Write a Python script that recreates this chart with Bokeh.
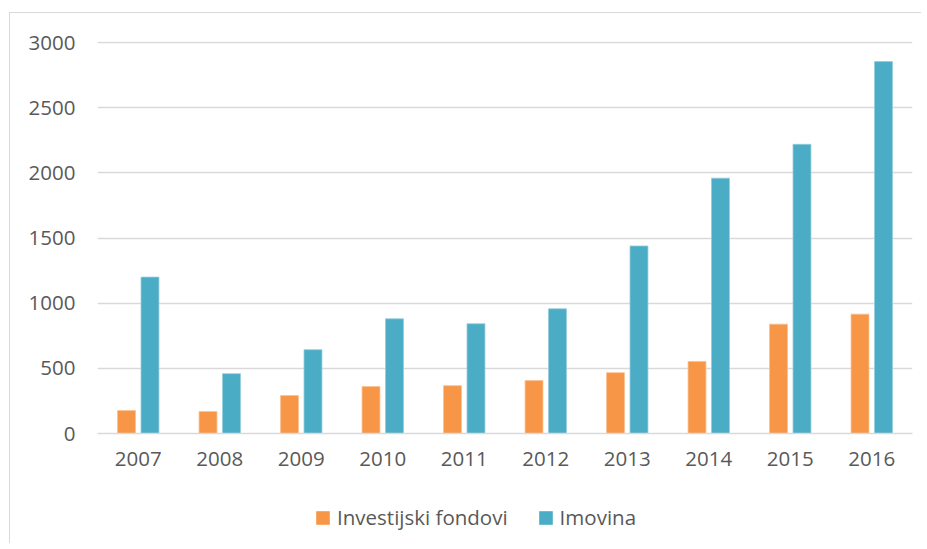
from bokeh.plotting import figure
from bokeh.models import ColumnDataSource, Legend, LegendItem, FactorRange, SingleIntervalTicker
from bokeh.layouts import column
from bokeh.transform import dodge
from bokeh.embed import file_html
from bokeh.resources import INLINE

years = ["2007", "2008", "2009", "2010", "2011", "2012", "2013", "2014", "2015", "2016"]
investijski_fondovi = [176, 168, 291, 360, 367, 406, 467, 553, 839, 916]
imovina = [1200, 459, 643, 880, 842, 957, 1439, 1959, 2219, 2854]
series_names = ["Investijski fondovi", "Imovina"]
series_colors = ["#F79646", "#4BACC6"]
series_edges = ["#FAC090", "#92CDDC"]

src = ColumnDataSource(dict(year=years, fond=investijski_fondovi, imov=imovina))

FONT = "Open Sans"
TXT = "#595959"
GRID = "#d9d9d9"

p = figure(width=911, height=470, output_backend="svg", toolbar_location=None,
           x_range=FactorRange(*years, range_padding=0), y_range=(0, 3008),
           min_border_left=87, min_border_right=9, min_border_top=28, min_border_bottom=50)

p.vbar(x=dodge("year", -0.144, range=p.x_range), top="fond", width=0.22, source=src,
       fill_color=series_colors[0], line_color=series_edges[0], line_width=0.8)
p.vbar(x=dodge("year", 0.144, range=p.x_range), top="imov", width=0.22, source=src,
       fill_color=series_colors[1], line_color=series_edges[1], line_width=0.8)

p.outline_line_color = None
p.xgrid.grid_line_color = None
p.ygrid.grid_line_color = GRID
p.ygrid.grid_line_width = 1.5
p.yaxis.ticker = SingleIntervalTicker(interval=500)
p.yaxis.axis_line_color = None
p.xaxis.axis_line_color = GRID
p.xaxis.axis_line_width = 1.5
for ax in (p.xaxis, p.yaxis):
    ax.major_tick_line_color = None
    ax.minor_tick_line_color = None
    ax.major_tick_out = 0
    ax.major_tick_in = 0
    ax.minor_tick_out = 0
    ax.major_label_text_font = FONT
    ax.major_label_text_font_size = "20.5px"
    ax.major_label_text_color = TXT
p.yaxis.major_label_standoff = 22
p.xaxis.major_label_standoff = 18

# legend strip (its frame is aligned with the chart frame by the column layout)
lf = figure(width=911, height=60, output_backend="svg", toolbar_location=None,
            x_axis_location=None, y_axis_location=None, x_range=(0, 1), y_range=(0, 1),
            min_border_left=0, min_border_right=0, min_border_top=0, min_border_bottom=0)
lf.outline_line_color = None
lf.xgrid.visible = False
lf.ygrid.visible = False
items = []
for name, col in zip(series_names, series_colors):
    dummy = ColumnDataSource(dict(x=[float("nan")], top=[float("nan")]))  # legend swatch only
    r = lf.vbar(x="x", top="top", width=0.1, source=dummy, fill_color=col, line_color=None)
    items.append(LegendItem(label=name, renderers=[r]))

legend = Legend(items=items, orientation="horizontal", location=(217, 12),
                glyph_width=17, glyph_height=17, label_standoff=6, spacing=29,
                padding=0, margin=0, border_line_color=None, background_fill_alpha=0,
                label_text_font=FONT, label_text_font_size="20.5px", label_text_color=TXT)
lf.add_layout(legend, "center")

layout = column(p, lf, spacing=0)
layout.styles = {"border-top": "1px solid #d9d9d9", "border-left": "1px solid #d9d9d9",
                 "margin-top": "12px", "margin-left": "9px"}

open("out.html", "w").write(file_html(layout, INLINE))
